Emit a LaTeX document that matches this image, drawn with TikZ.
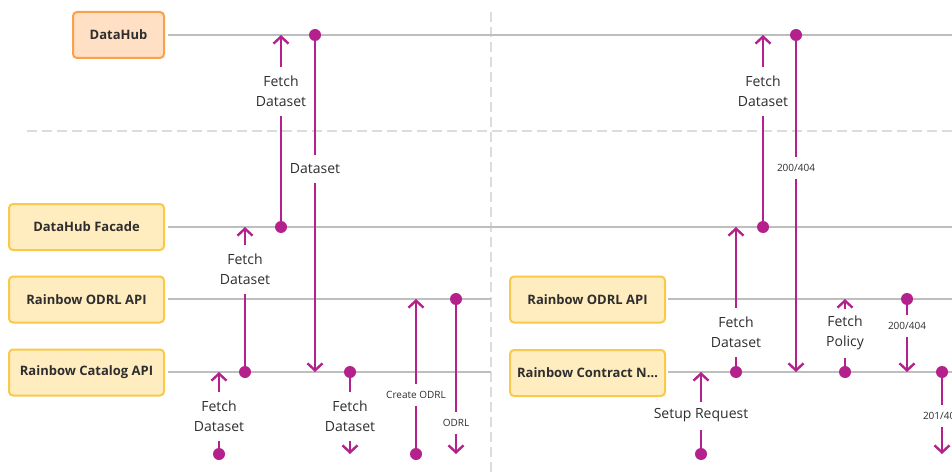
\documentclass[tikz,border=0pt]{standalone}
\usepackage{fontspec}
\setmainfont{Open Sans}
\usetikzlibrary{arrows.meta}
\definecolor{mag}{HTML}{B5218C}
\definecolor{lifegray}{HTML}{BEBEBE}
\definecolor{sepgray}{HTML}{DCDCDC}
\definecolor{txt}{HTML}{2E2E2E}
\definecolor{hubfill}{HTML}{FFE0C4}
\definecolor{hubdraw}{HTML}{F9A24B}
\definecolor{boxfill}{HTML}{FFEDC0}
\definecolor{boxdraw}{HTML}{F9C94A}
\begin{document}
\begin{tikzpicture}[x=1pt,y=-1pt,
  basebox/.style={rounded corners=4pt, line width=2pt, minimum height=46pt,
    text=txt, font=\bfseries\fontsize{13}{16}\selectfont, inner sep=0pt},
  hubbox/.style={basebox, draw=hubdraw, fill=hubfill, minimum width=91pt},
  svcbox/.style={basebox, draw=boxdraw, fill=boxfill, minimum width=155pt},
  life/.style={draw=lifegray, line width=2pt},
  sepline/.style={draw=sepgray, line width=2pt, dash pattern=on 10pt off 5pt},
  msg/.style={draw=mag, line width=2.4pt, -{Straight Barb[length=7pt,width=15pt]}},
  dotmark/.style={circle, fill=mag, inner sep=0pt, minimum size=12pt},
  lbltwo/.style={fill=white, text=txt, align=center, font=\fontsize{14}{20}\selectfont,
    inner xsep=1pt, inner ysep=0pt, minimum height=49pt},
  lblone/.style={fill=white, text=txt, font=\fontsize{14}{17}\selectfont,
    inner xsep=1pt, inner ysep=0pt, minimum height=28pt},
  lblsmall/.style={fill=white, text=txt, font=\fontsize{10}{12}\selectfont,
    inner xsep=1pt, inner ysep=0pt, minimum height=22pt}
]
\useasboundingbox (0,0) rectangle (952,473);
\fill[white] (0,0) rectangle (952,473);

% separators
\coordinate (hs1) at (27,131); \coordinate (hs2) at (952,131);
\coordinate (vs1) at (491,12); \coordinate (vs2) at (491,473);
\draw[sepline] (hs1) -- (hs2);
\draw[sepline] (vs1) -- (vs2);

% boxes
\node[hubbox] (dh) at (118.5,35) {DataHub};
\node[svcbox] (fac) at (86.5,227) {DataHub Facade};
\node[svcbox] (odrl) at (86.5,299.5) {Rainbow ODRL API};
\node[svcbox] (cat) at (86.5,372.5) {Rainbow Catalog API};
\node[svcbox] (odrlb) at (587.5,299.5) {Rainbow ODRL API};
\node[svcbox] (cn) at (587.5,373) {Rainbow Contract N…};

% lifelines
\coordinate (dhA) at (168,35);  \coordinate (dhB) at (952,35);
\coordinate (facA) at (168,227); \coordinate (facB) at (952,227);
\coordinate (odA) at (168,299); \coordinate (odB) at (491,299);
\coordinate (catA) at (168,372); \coordinate (catB) at (491,372);
\coordinate (odC) at (668,299); \coordinate (odD) at (952,299);
\coordinate (cnA) at (668,372); \coordinate (cnB) at (952,372);
\draw[life] (dhA) -- (dhB);
\draw[life] (facA) -- (facB);
\draw[life] (odA) -- (odB);
\draw[life] (catA) -- (catB);
\draw[life] (odC) -- (odD);
\draw[life] (cnA) -- (cnB);

% message endpoints
\coordinate (s1) at (281,227); \coordinate (e1) at (281,35);
\coordinate (s2) at (315,35);  \coordinate (e2) at (315,372);
\coordinate (s3) at (245,372); \coordinate (e3) at (245,227);
\coordinate (s4) at (219,454); \coordinate (e4) at (219,372);
\coordinate (s5) at (350,372); \coordinate (e5) at (350,454);
\coordinate (s6) at (416,454); \coordinate (e6) at (416,299);
\coordinate (s7) at (456,299); \coordinate (e7) at (456,454);
\coordinate (s8) at (763,227); \coordinate (e8) at (763,35);
\coordinate (s9) at (796,35);  \coordinate (e9) at (796,372);
\coordinate (s10) at (736,372); \coordinate (e10) at (736,227);
\coordinate (s11) at (701,454); \coordinate (e11) at (701,372);
\coordinate (s12) at (845,372); \coordinate (e12) at (845,299);
\coordinate (s13) at (907,299); \coordinate (e13) at (907,372);
\coordinate (s14) at (942,372); \coordinate (e14) at (942,454);

\foreach \i in {1,...,14} {\draw[msg] (s\i) -- (e\i);}
\foreach \i in {1,...,14} {\node[dotmark] (dot\i) at (s\i) {};}

% labels
\node[lbltwo] (l1) at (281,91.5) {Fetch\\Dataset};
\node[lblone] (l2) at (315,169) {Dataset};
\node[lbltwo] (l3) at (245,269) {Fetch\\Dataset};
\node[lbltwo] (l4) at (219,416) {Fetch\\Dataset};
\node[lbltwo] (l5) at (350,416) {Fetch\\Dataset};
\node[lblsmall] (l6) at (416,394.5) {Create ODRL};
\node[lblsmall] (l7) at (456,423) {ODRL};
\node[lbltwo] (l8) at (763,91.5) {Fetch\\Dataset};
\node[lblsmall] (l9) at (796,168) {200/404};
\node[lbltwo] (l10) at (736,332) {Fetch\\Dataset};
\node[lblone] (l11) at (701,415.5) {Setup Request};
\node[lbltwo] (l12) at (845,333) {Fetch\\Policy};
\node[lblsmall] (l13) at (907,326) {200/404};
\node[lblsmall] (l14) at (942,416) {201/404};
\end{tikzpicture}
\end{document}
